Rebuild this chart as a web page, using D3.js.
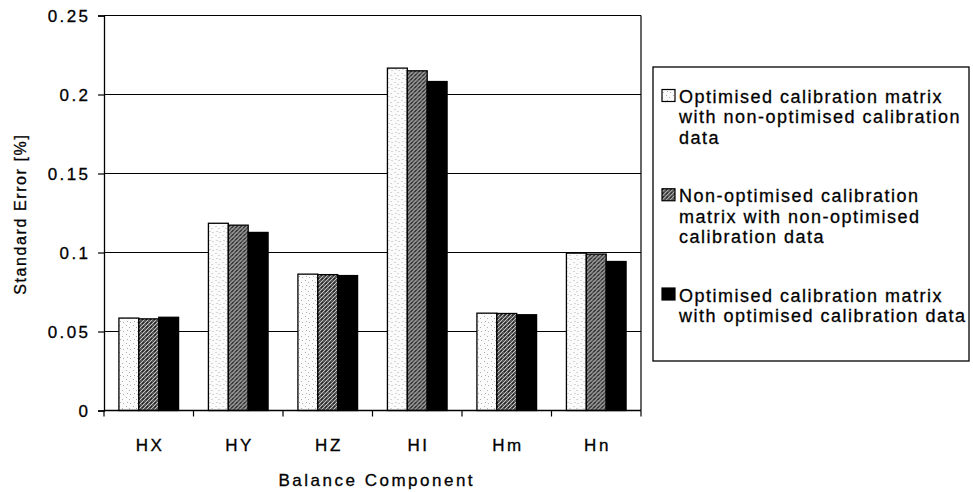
<!DOCTYPE html>
<html>
<head>
<meta charset="utf-8">
<script src="https://cdn.jsdelivr.net/npm/d3@7"></script>
<style>
  html, body { margin: 0; padding: 0; background: #fff; }
  svg { display: block; }
  text { font-family: "Liberation Sans", Arial, Helvetica, sans-serif; fill: #000; stroke: #000; stroke-width: 0.3px; }
</style>
</head>
<body>
<svg id="chart" width="973" height="492"></svg>
<script>
// ---- data ----
const categories = ["HX", "HY", "HZ", "HI", "Hm", "Hn"];
const seriesNames = [
  "Optimised calibration matrix with non-optimised calibration data",
  "Non-optimised calibration matrix with non-optimised calibration data",
  "Optimised calibration matrix with optimised calibration data"
];
const legendLines = [
  ["Optimised calibration matrix", "with non-optimised calibration", "data"],
  ["Non-optimised calibration", "matrix with non-optimised", "calibration data"],
  ["Optimised calibration matrix", "with optimised calibration data"]
];
const optMatrixNonOptData    = [0.0585, 0.1185, 0.0863, 0.2167, 0.0616, 0.0996];
const nonOptMatrixNonOptData = [0.0580, 0.1173, 0.0860, 0.2150, 0.0614, 0.0990];
const optMatrixOptData       = [0.0590, 0.1127, 0.0854, 0.2082, 0.0606, 0.0943];
const yTicks = [0, 0.05, 0.1, 0.15, 0.2, 0.25];
const yTickLabels = ["0", "0.05", "0.1", "0.15", "0.2", "0.25"];
const xTitle = "Balance Component";
const yTitle = "Standard Error [%]";

const seriesValues = [optMatrixNonOptData, nonOptMatrixNonOptData, optMatrixOptData];
const seriesFills = ["url(#pWhite)", "url(#pGray)", "#000"];

// ---- layout ----
const svg = d3.select("#chart");
const plot = { left: 104, right: 641, top: 15.5, bottom: 410.5 };

const x = d3.scaleBand().domain(categories).range([plot.left, plot.right]).padding(0);
const y = d3.scaleLinear().domain([0, 0.25]).range([plot.bottom, plot.top]);
const bw = x.bandwidth();
const barW = bw / 4.5;               // Excel-like gap width 150%
const inner = d3.scaleBand().domain(d3.range(3)).range([bw * 0.75 / 4.5, bw * 0.75 / 4.5 + 3 * barW]).padding(0);

// ---- patterns ----
const defs = svg.append("defs");
const pw = defs.append("pattern").attr("id", "pWhite").attr("patternUnits", "userSpaceOnUse")
  .attr("width", 7).attr("height", 9);
pw.append("rect").attr("width", 7).attr("height", 9).attr("fill", "#fbfbfb");
[[1,1],[4,3],[2,6],[5,7]].forEach(([a,b]) =>
  pw.append("rect").attr("x", a).attr("y", b).attr("width", 1).attr("height", 1).attr("fill", "#b0b0b0"));

const pg = defs.append("pattern").attr("id", "pGray").attr("patternUnits", "userSpaceOnUse")
  .attr("width", 4).attr("height", 4);
pg.append("rect").attr("width", 4).attr("height", 4).attr("fill", "#555");
[[0,3],[1,2],[2,1],[3,0]].forEach(([a,b]) =>
  pg.append("rect").attr("x", a).attr("y", b).attr("width", 1).attr("height", 1).attr("fill", "#c4c4c4"));
[[2,3],[3,2]].forEach(([a,b]) =>
  pg.append("rect").attr("x", a).attr("y", b).attr("width", 1).attr("height", 1).attr("fill", "#222"));

// ---- gridlines ----
svg.append("g").selectAll("line").data(yTicks.filter(d => d > 0)).join("line")
  .attr("x1", plot.left).attr("x2", plot.right)
  .attr("y1", d => y(d)).attr("y2", d => y(d))
  .attr("stroke", "#000").attr("stroke-width", 1.2);

// right border of plot area
svg.append("line").attr("x1", plot.right).attr("x2", plot.right)
  .attr("y1", y(0.25)).attr("y2", y(0)).attr("stroke", "#000").attr("stroke-width", 1.2);

// ---- bars ----
const groups = svg.append("g").selectAll("g").data(categories).join("g")
  .attr("transform", d => `translate(${x(d)},0)`);
groups.selectAll("rect").data((c, i) => seriesValues.map((vals, s) => ({ s, v: vals[i] }))).join("rect")
  .attr("x", d => inner(d.s))
  .attr("width", barW)
  .attr("y", d => y(d.v))
  .attr("height", d => y(0) - y(d.v))
  .attr("fill", d => seriesFills[d.s])
  .attr("stroke", "#000").attr("stroke-width", 1.3);

// ---- axes ----
const lsY = 2.4;
const yAxis = d3.axisLeft(y).tickValues(yTicks).tickFormat((d, i) => yTickLabels[i]).tickSize(6).tickPadding(10);
const gy = svg.append("g").attr("transform", `translate(${plot.left},0)`).call(yAxis);
gy.select(".domain").attr("stroke", "#000").attr("stroke-width", 1.3);
gy.selectAll(".tick line").attr("stroke", "#000").attr("stroke-width", 1.2);
gy.selectAll(".tick text").attr("font-size", 17).attr("font-family", null)
  .attr("letter-spacing", lsY).attr("dx", lsY).attr("dy", "0.36em").attr("fill", "#000");

const xBoundaries = d3.scaleLinear().domain([0, categories.length]).range([plot.left, plot.right]);
const gx = svg.append("g");
gx.append("line").attr("x1", plot.left).attr("x2", plot.right).attr("y1", y(0)).attr("y2", y(0))
  .attr("stroke", "#000").attr("stroke-width", 1.3);
gx.selectAll("line.tk").data(d3.range(categories.length + 1)).join("line").attr("class", "tk")
  .attr("x1", d => xBoundaries(d)).attr("x2", d => xBoundaries(d))
  .attr("y1", y(0)).attr("y2", y(0) + 6).attr("stroke", "#000").attr("stroke-width", 1.2);
const lsX = 2.6;
gx.selectAll("text").data(categories).join("text")
  .attr("x", d => x(d) + bw / 2 + lsX / 2).attr("y", 451)
  .attr("text-anchor", "middle").attr("font-size", 17).attr("letter-spacing", lsX)
  .text(d => d);

// axis titles
svg.append("text").attr("x", 375.5 + 1.3).attr("y", 486).attr("text-anchor", "middle")
  .attr("font-size", 17).attr("letter-spacing", 2.5).text(xTitle);
svg.append("text").attr("transform", "translate(25.5,215) rotate(-90)").attr("text-anchor", "middle")
  .attr("font-size", 16).attr("letter-spacing", 1.6).attr("dx", 0.8).text(yTitle);

// ---- legend ----
const legend = svg.append("g");
legend.append("rect").attr("x", 653).attr("y", 67).attr("width", 316).attr("height", 294)
  .attr("fill", "#fff").attr("stroke", "#000").attr("stroke-width", 1.3);
const entryY = d3.scalePoint().domain(d3.range(3)).range([103, 301.5]);
const items = legend.selectAll("g.item").data(seriesNames).join("g").attr("class", "item")
  .attr("transform", (d, i) => `translate(0,${entryY(i)})`);
items.append("rect").attr("x", 662).attr("y", -13.5).attr("width", 13).attr("height", 12)
  .attr("fill", (d, i) => seriesFills[i]).attr("stroke", "#000").attr("stroke-width", 1.2);
items.append("text").attr("x", 679).attr("y", 0).attr("font-size", 18).attr("letter-spacing", 1.5)
  .selectAll("tspan").data((d, i) => legendLines[i]).join("tspan")
  .attr("x", 679).attr("dy", (d, j) => j === 0 ? 0 : 20.3).text(d => d);
</script>
</body>
</html>
